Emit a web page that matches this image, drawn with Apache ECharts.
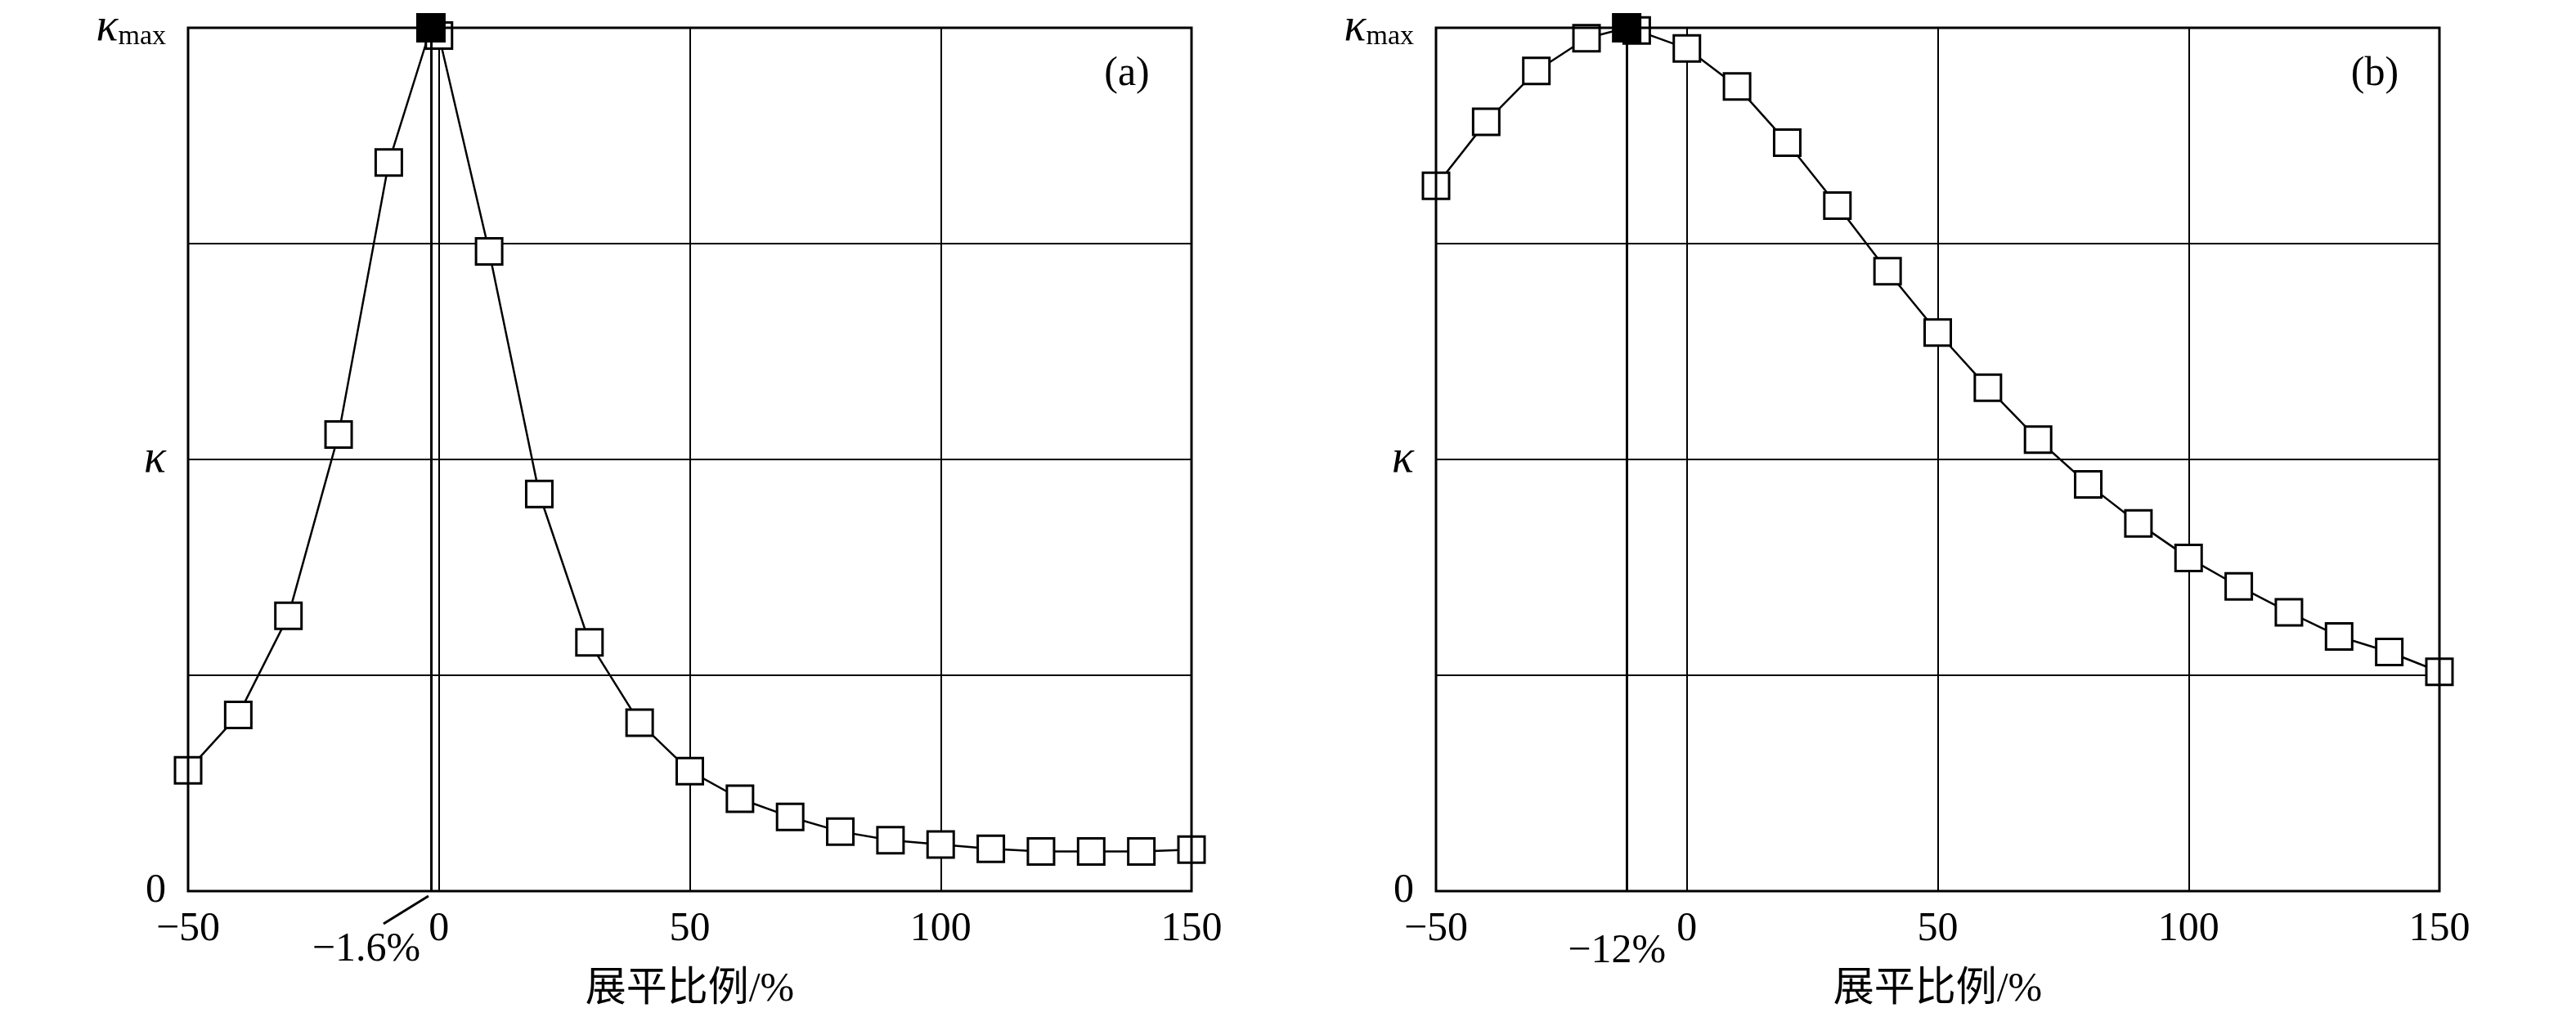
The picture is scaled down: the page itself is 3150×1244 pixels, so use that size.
<!DOCTYPE html>
<html>
<head>
<meta charset="utf-8">
<script src="https://cdn.jsdelivr.net/npm/echarts@6/dist/echarts.min.js"></script>
<style>
html,body{margin:0;padding:0;background:#fff;}
#c{width:3150px;height:1244px;}
</style>
</head>
<body>
<div id="c"></div>
<script>
// ---- data (κ normalised by κmax) ----
const xTicks = [-50, 0, 50, 100, 150];
const aX = [-50,-40,-30,-20,-10,-1.6,0,10,20,30,40,50,60,70,80,90,100,110,120,130,140,150];
const aY = [0.140,0.204,0.319,0.529,0.844,1.000,0.991,0.741,0.460,0.288,0.195,0.139,0.107,0.086,0.069,0.059,0.054,0.049,0.046,0.046,0.046,0.048];
const aPeakX = -1.6;
const aPeakY = 1.0;
const bX = [-50,-40,-30,-20,-12,-10,0,10,20,30,40,50,60,70,80,90,100,110,120,130,140,150];
const bY = [0.817,0.891,0.950,0.988,1.000,0.997,0.976,0.932,0.867,0.794,0.718,0.647,0.583,0.523,0.471,0.426,0.386,0.353,0.323,0.295,0.277,0.254];
const bPeakX = -12;
const bPeakY = 1.0;
const yLabels = {0: '0', 0.5: '{k|κ}', 1: '{k|κ}{s|max}'};
const peakLabels = ['−1.6%', '−12%'];
const panelTags = ['(a)', '(b)'];
const xTitle = '展平比例/%';

const FONT = "'Liberation Serif', 'Noto Sans CJK SC', serif";
const chart = echarts.init(document.getElementById('c'), null, {renderer: 'canvas'});

function pairs(xs, ys, peakX) {
  return xs.map((x, i) => x === peakX ? {value: [x, ys[i]], symbol: 'none'} : [x, ys[i]]);
}

const grids = [
  {left: 230, top: 34, width: 1227, height: 1056},
  {left: 1756, top: 34, width: 1227, height: 1056}
];

function xAxis(i) {
  return {
    type: 'value', gridIndex: i, min: -50, max: 150, interval: 50,
    name: xTitle, nameLocation: 'middle', nameGap: 96,
    nameTextStyle: {fontFamily: FONT, fontSize: 50, color: '#000'},
    axisLine: {show: false}, axisTick: {show: false},
    axisLabel: {fontFamily: FONT, fontSize: 50, color: '#000', margin: 22,
      formatter: v => String(v).replace('-', '−')},
    splitLine: {show: true, lineStyle: {color: '#000', width: 2}}
  };
}
function yAxis(i) {
  return {
    type: 'value', gridIndex: i, min: 0, max: 1, interval: 0.25,
    axisLine: {show: false}, axisTick: {show: false},
    axisLabel: {fontFamily: FONT, fontSize: 50, color: '#000', margin: 27,
      formatter: v => (yLabels[v] !== undefined ? yLabels[v] : ''),
      rich: {
        k: {fontFamily: FONT, fontSize: 56, fontStyle: 'italic', color: '#000', verticalAlign: 'middle'},
        s: {fontFamily: FONT, fontSize: 34, color: '#000', verticalAlign: 'bottom', padding: [0, 0, 0, 0], lineHeight: 20}
      }},
    splitLine: {show: true, lineStyle: {color: '#000', width: 2}}
  };
}

function lineSeries(i, xs, ys, peakX) {
  return {
    type: 'line', xAxisIndex: i, yAxisIndex: i, z: 3,
    data: pairs(xs, ys, peakX),
    symbol: 'rect', symbolSize: 32,
    lineStyle: {color: '#000', width: 2.5},
    itemStyle: {color: '#fff', borderColor: '#000', borderWidth: 3, opacity: 1},
    emphasis: {disabled: true}, silent: true, animation: false
  };
}
function peakSeries(i, px, py) {
  return {
    type: 'scatter', xAxisIndex: i, yAxisIndex: i, z: 5,
    data: [[px, py]], symbol: 'rect', symbolSize: 36,
    itemStyle: {color: '#000', borderWidth: 0, opacity: 1},
    emphasis: {disabled: true}, silent: true, animation: false,
    markLine: {
      silent: true, symbol: ['none', 'none'], animation: false,
      label: {show: false},
      lineStyle: {color: '#000', width: 3, type: 'solid', opacity: 1},
      data: [{xAxis: px}]
    }
  };
}

chart.setOption({
  backgroundColor: '#fff',
  animation: false,
  grid: grids.map(g => Object.assign({show: true, borderColor: '#000', borderWidth: 3, backgroundColor: 'transparent', z: 4}, g)),
  xAxis: [xAxis(0), xAxis(1)],
  yAxis: [yAxis(0), yAxis(1)],
  series: [
    lineSeries(0, aX, aY, aPeakX), peakSeries(0, aPeakX, aPeakY),
    lineSeries(1, bX, bY, bPeakX), peakSeries(1, bPeakX, bPeakY)
  ]
});

// annotations placed through the axes' own scales
const pa = chart.convertToPixel({gridIndex: 0}, [aPeakX, 0]);
const pb = chart.convertToPixel({gridIndex: 1}, [bPeakX, 0]);
const ta = chart.convertToPixel({gridIndex: 0}, [150, 1]);
const tb = chart.convertToPixel({gridIndex: 1}, [150, 1]);
const txt = (x, y, s) => ({type: 'text', x: x, y: y, z: 10, silent: true,
  style: {text: s, fontFamily: FONT, fontSize: 50, fill: '#000', align: 'center', verticalAlign: 'middle'}});
chart.setOption({
  graphic: [
    {type: 'line', z: 10, silent: true, shape: {x1: pa[0] - 3, y1: pa[1] + 6, x2: pa[0] - 58, y2: pa[1] + 40},
      style: {stroke: '#000', lineWidth: 3}},
    txt(pa[0] - 79, pa[1] + 72, peakLabels[0]),
    txt(pb[0] - 12, pb[1] + 74, peakLabels[1]),
    txt(ta[0] - 79, ta[1] + 57, panelTags[0]),
    txt(tb[0] - 79, tb[1] + 57, panelTags[1])
  ]
});
</script>
</body>
</html>
